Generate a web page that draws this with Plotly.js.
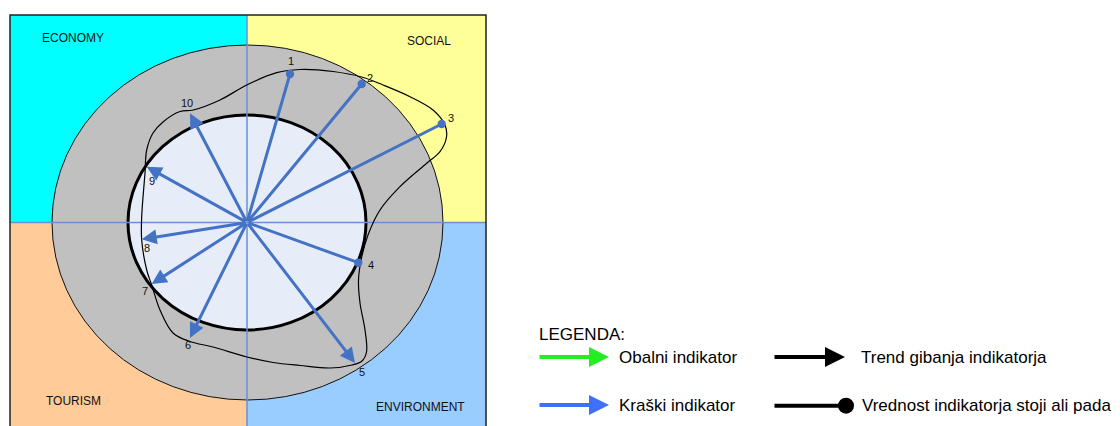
<!DOCTYPE html>
<html>
<head>
<meta charset="utf-8">
<script src="https://cdn.plot.ly/plotly-3.0.1.min.js"></script>
<style>
html,body{margin:0;padding:0;background:#fff;}
#chart{width:1120px;height:426px;}
</style>
</head>
<body>
<div id="chart"></div>
<script>
// ---- data ----
const indicators = ['1','2','3','4','5','6','7','8','9','10'];
const indEndX = [43, 114.7, 194.7, 111.3, 108, -57, -95.3, -105.3, -100.3, -57];
const indEndY = [148.5, 138.5, 98.5, -40.2, -140.5, -115.5, -61.5, -16.8, 55.8, 109.2];
const indHead = ['dot','dot','dot','dot','arrow','arrow','arrow','arrow','arrow','arrow'];

const trendX = [-0.3, 29.7, 53, 86, 114.7, 136, 163, 186, 198, 199.5, 193, 179.7, 153, 133, 121, 114.5, 111.5, 113, 118, 119.5, 115, 105, 83, 53, 26, 0, -34, -57, -74, -87, -95.3, -100.3, -105.3, -105.3, -102, -100.3, -94, -83.7, -67, -53.7, -27, -0.3];
const trendY = [137.5, 149.8, 153, 151, 145.5, 137.5, 125.8, 112.5, 97.5, 85.5, 70.8, 59.2, 35.8, 12.5, -12.5, -35.5, -57.5, -80.5, -107.5, -129.5, -138.5, -142.5, -145.5, -143, -140, -134.5, -124.5, -119, -110.5, -87.5, -62.5, -47.5, -17.5, 5.8, 49.5, 72.5, 89.5, 100.8, 111, 112.5, 122.5, 137.5];

const quadrantNames = ['ECONOMY', 'SOCIAL', 'TOURISM', 'ENVIRONMENT'];
const legendTitle = 'LEGENDA:';
const legendLabels = ['Obalni indikator', 'Kraški indikator', 'Trend gibanja indikatorja', 'Vrednost indikatorja stoji ali pada'];

// ---- styles / layout geometry ----
const BOX = {l: -237, r: 239, t: 207.5, b: -215};
const quadColors = ['#00FFFF', '#FFFF99', '#FFCC99', '#99CCFF'];
const quadLabelPos = [[-174.5, 184.5], [182, 181.5], [-174, -178.5], [173.5, -184.5]];
const labelOffsets = [[0.7,13],[8,6.5],[9.5,6],[13,-2],[6.7,-8.5],[-1.7,-6.7],[-6.7,-6.7],[5.6,-8.4],[5,-14],[-3.3,10]];
const arrowBlue = '#4472C4';

const shapes = [];
// quadrants
shapes.push({type:'rect', xref:'x', yref:'y', x0:BOX.l, x1:0, y0:0, y1:BOX.t, fillcolor:quadColors[0], line:{width:0}, layer:'below'});
shapes.push({type:'rect', xref:'x', yref:'y', x0:0, x1:BOX.r, y0:0, y1:BOX.t, fillcolor:quadColors[1], line:{width:0}, layer:'below'});
shapes.push({type:'rect', xref:'x', yref:'y', x0:BOX.l, x1:0, y0:BOX.b, y1:0, fillcolor:quadColors[2], line:{width:0}, layer:'below'});
shapes.push({type:'rect', xref:'x', yref:'y', x0:0, x1:BOX.r, y0:BOX.b, y1:0, fillcolor:quadColors[3], line:{width:0}, layer:'below'});
// outer gray ellipse
shapes.push({type:'circle', xref:'x', yref:'y', x0:-195, x1:196, y0:-177.5, y1:177.5, fillcolor:'#C0C0C0', line:{color:'#111', width:1}, layer:'below'});
// inner ellipse
shapes.push({type:'circle', xref:'x', yref:'y', x0:-119, x1:119, y0:-107.5, y1:107.5, fillcolor:'#E7EDF8', line:{color:'#000', width:3}, layer:'below'});
// center lines
shapes.push({type:'line', xref:'x', yref:'y', x0:0, x1:0, y0:BOX.b, y1:BOX.t, line:{color:'#6B8FD0', width:1.5}, layer:'below'});
shapes.push({type:'line', xref:'x', yref:'y', x0:BOX.l, x1:BOX.r, y0:0, y1:0, line:{color:'#6B8FD0', width:1.5}, layer:'below'});
// box border
shapes.push({type:'rect', xref:'x', yref:'y', x0:BOX.l, x1:BOX.r, y0:BOX.b, y1:BOX.t, line:{color:'#222', width:1.5}, layer:'above'});

const annotations = [];
quadrantNames.forEach((n, i) => {
  annotations.push({x:quadLabelPos[i][0], y:quadLabelPos[i][1], xref:'x', yref:'y', text:n, showarrow:false,
    font:{family:'Liberation Sans, Arial, sans-serif', size:12, color:'#111'}});
});
// indicator arrows
indicators.forEach((lab, i) => {
  const dot = indHead[i] === 'dot';
  annotations.push({x:indEndX[i], y:indEndY[i], ax:0, ay:0, xref:'x', yref:'y', axref:'x', ayref:'y',
    text:'', showarrow:true, arrowhead: dot ? 6 : 2, arrowsize: dot ? 0.7 : 1, arrowwidth:3,
    arrowcolor:arrowBlue, standoff:0, startstandoff:0});
  annotations.push({x:indEndX[i] + labelOffsets[i][0], y:indEndY[i] + labelOffsets[i][1], xref:'x', yref:'y',
    text:lab, showarrow:false, font:{family:'Liberation Sans, Arial, sans-serif', size:11, color:'#111'}});
});
// legend
const LF = {family:'Liberation Sans, Arial, sans-serif', size:17, color:'#000'};
annotations.push({x:289.7, y:-112, xref:'x', yref:'y', text:legendTitle, showarrow:false, xanchor:'left', font:LF});
const legendRows = [
  {x0:291, x1:362, y:-134.5, color:'#22EE22', head:2, size:1, tx:370, label:legendLabels[0]},
  {x0:291, x1:362, y:-182.5, color:'#3F6FFF', head:2, size:1, tx:370, label:legendLabels[1]},
  {x0:526, x1:598, y:-134.5, color:'#000000', head:2, size:1, tx:612, label:legendLabels[2]},
  {x0:526, x1:599, y:-183.2, color:'#000000', head:6, size:1, tx:613, label:legendLabels[3]}
];
legendRows.forEach(r => {
  annotations.push({x:r.x1, y:r.y, ax:r.x0, ay:r.y, xref:'x', yref:'y', axref:'x', ayref:'y', text:'',
    showarrow:true, arrowhead:r.head, arrowsize:r.size, arrowwidth:4, arrowcolor:r.color, standoff:0, startstandoff:0});
  annotations.push({x:r.tx, y:r.y, xref:'x', yref:'y', text:r.label, showarrow:false, xanchor:'left', font:LF});
});

const traces = [{
  x: trendX, y: trendY, type:'scatter', mode:'lines',
  line:{color:'#000', width:1.2, shape:'spline', smoothing:1},
  hoverinfo:'skip', showlegend:false
}];

const layout = {
  width:1120, height:426,
  margin:{l:0, r:0, t:0, b:0, pad:0},
  paper_bgcolor:'#fff', plot_bgcolor:'#fff',
  xaxis:{range:[-247, 873], visible:false, showgrid:false, zeroline:false, fixedrange:true},
  yaxis:{range:[-203.5, 222.5], visible:false, showgrid:false, zeroline:false, fixedrange:true},
  shapes: shapes,
  annotations: annotations,
  showlegend:false
};

Plotly.newPlot('chart', traces, layout, {staticPlot:true, displayModeBar:false});
</script>
</body>
</html>
